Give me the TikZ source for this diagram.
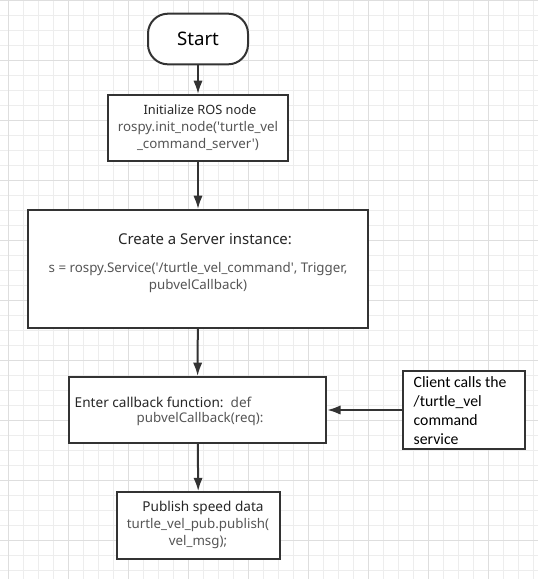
\documentclass[tikz,border=0pt]{standalone}
\usepackage{fontspec}
\setmainfont{Noto Sans}
\newfontfamily\codefont{Noto Sans}
\newfontfamily\clientfont{Carlito}
\usetikzlibrary{arrows.meta}

\definecolor{gridminor}{HTML}{EDEDED}
\definecolor{gridmajor}{HTML}{DEDEDE}
\definecolor{boxline}{HTML}{333333}
\definecolor{codegray}{HTML}{555555}

\tikzset{
	box/.style = {draw = boxline, line width = 1.5pt, fill = white, inner sep = 0pt},
	title/.style = {font = \fontsize{10.2}{12}\selectfont, text = black!85},
	code/.style = {font = \codefont\fontsize{10}{12.75}\selectfont, text = codegray, align = center},
	flow/.style = {->, draw = boxline, line width = 1.5pt}
}

\begin{document}
\begin{tikzpicture}[x = 0.75pt, y = -0.75pt, > = {Latex[length = 10pt, width = 7pt]}]

	\useasboundingbox (0, 0) rectangle (538, 579);

	\begin{scope}[xshift = 6pt, line width = 0.75pt]
		\draw [gridminor, step = 11.25pt] (-8, 0) grid (532, 579);
		\draw [gridmajor, step = 45pt] (-8, 0) grid (532, 579);
	\end{scope}

	\node [box, rounded corners = 15pt, minimum width = 75pt, minimum height = 38pt,
		font = \fontsize{14}{16}\selectfont] (start) at (198, 39) {Start};

	\node [box, minimum width = 135pt, minimum height = 49.5pt] (init) at (198, 128) {};
	\node [title, font = \fontsize{9.6}{12}\selectfont] (init title) at (200, 110) {Initialize ROS node};
	\node [code] (init code) at (198, 136) {rospy.init\_node('turtle\_vel\\\_command\_server')};

	\node [box, minimum width = 255pt, minimum height = 88.5pt] (server) at (198, 269) {};
	\node [title, font = \fontsize{11.2}{12}\selectfont] (server title) at (205, 239) {Create a Server instance:};
	\node [code] (server code) at (198, 278) {s = rospy.Service('/turtle\_vel\_command', Trigger,\\pubvelCallback)};

	\node [box, minimum width = 193pt, minimum height = 49.5pt] (callback) at (197.5, 410) {};
	\node [title, anchor = west] (callback title) at (70, 402)
		{Enter callback function:\ \ \textcolor{codegray}{\codefont def}};
	\node [code] (callback code) at (200, 419) {pubvelCallback(req):};

	\node [box, minimum width = 91.5pt, minimum height = 58.5pt] (client) at (464, 410) {};
	\node [anchor = west, align = left, font = \clientfont\fontsize{11.8}{14.25}\selectfont]
		(client text) at (409, 411) {Client calls the\\/turtle\_vel\\command\\service};

	\node [box, minimum width = 122pt, minimum height = 50pt] (publish) at (198.5, 525.5) {};
	\node [title] (publish title) at (203, 508) {Publish speed data};
	\node [code] (publish code) at (198, 534) {turtle\_vel\_pub.publish(\\vel\_msg);};

	\draw [flow] (start) -- (init);
	\draw [flow] (init) -- (server);
	\draw [flow] (server) -- (callback);
	\draw [flow] (callback) -- (publish);
	\draw [flow] (client) -- (callback);

\end{tikzpicture}
\end{document}
